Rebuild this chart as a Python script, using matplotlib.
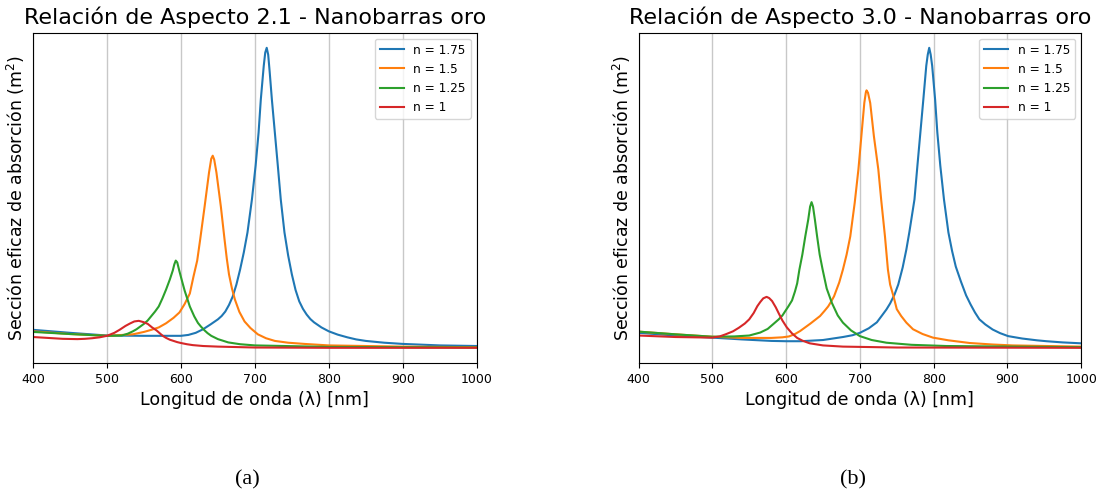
import matplotlib
matplotlib.use('Agg')
import matplotlib.pyplot as plt

# longitudes de onda (nm) y sección eficaz (u.a.) - relación de aspecto 2.1
lam_a_175 = [400, 450, 500, 550, 600, 610, 620, 630, 640, 650, 655, 660, 665, 670, 675, 680, 685, 690, 696, 701,
             705, 708, 712, 714, 716, 718, 720, 723, 727, 731, 735, 740, 745, 750, 755, 760, 765, 770, 775, 780,
             790, 800, 812, 825, 837, 850, 875, 900, 950, 1000]
sec_a_175 = [0.62, 0.52, 0.43, 0.42, 0.42, 0.45, 0.52, 0.64, 0.80, 0.97, 1.08, 1.23, 1.45, 1.73, 2.13, 2.63, 3.20,
             3.87, 4.97, 6.10, 7.20, 8.30, 9.43, 9.87, 10.03, 9.80, 9.23, 8.30, 7.20, 6.10, 4.97, 3.87, 3.10, 2.47,
             1.95, 1.57, 1.32, 1.13, 0.98, 0.87, 0.70, 0.57, 0.46, 0.37, 0.30, 0.25, 0.19, 0.15, 0.10, 0.08]

lam_a_150 = [400, 450, 500, 535, 550, 560, 570, 580, 590, 598, 605, 612, 617, 622, 626, 632, 638, 641, 643, 645,
             648, 654, 659, 662, 665, 669, 673, 679, 686, 694, 704, 715, 727, 745, 767, 800, 900, 1000]
sec_a_150 = [0.57, 0.48, 0.42, 0.47, 0.55, 0.62, 0.70, 0.84, 1.02, 1.20, 1.48, 1.83, 2.40, 2.93, 3.63, 4.73, 5.87,
             6.33, 6.43, 6.30, 5.87, 4.73, 3.63, 3.00, 2.47, 2.00, 1.63, 1.22, 0.90, 0.68, 0.47, 0.34, 0.25, 0.19,
             0.15, 0.10, 0.06, 0.04]

lam_a_125 = [400, 450, 500, 520, 528, 535, 540, 545, 550, 555, 565, 570, 575, 580, 585, 589, 591, 593, 595, 598,
             602, 605, 612, 618, 623, 627, 632, 636, 641, 650, 664, 680, 700, 800, 1000]
sec_a_125 = [0.55, 0.48, 0.42, 0.43, 0.49, 0.57, 0.64, 0.73, 0.82, 0.93, 1.23, 1.40, 1.67, 1.97, 2.30, 2.60, 2.80,
             2.93, 2.87, 2.57, 2.20, 1.93, 1.40, 1.07, 0.85, 0.73, 0.60, 0.51, 0.42, 0.31, 0.20, 0.14, 0.10, 0.05,
             0.03]

lam_a_100 = [400, 420, 440, 460, 470, 480, 490, 500, 510, 517, 525, 531, 537, 543, 549, 555, 561, 567, 573, 576,
             580, 585, 590, 595, 600, 608, 616, 630, 650, 700, 800, 1000]
sec_a_100 = [0.38, 0.35, 0.32, 0.31, 0.32, 0.34, 0.37, 0.42, 0.52, 0.62, 0.75, 0.83, 0.90, 0.92, 0.88, 0.82, 0.70,
             0.60, 0.47, 0.41, 0.35, 0.29, 0.25, 0.21, 0.18, 0.14, 0.11, 0.08, 0.06, 0.03, 0.02, 0.02]

# relación de aspecto 3.0
lam_b_175 = [400, 450, 500, 540, 580, 600, 620, 650, 677, 690, 700, 712, 723, 730, 736, 741, 747, 752, 758, 763,
             767, 774, 778, 782, 786, 790, 792, 794, 796, 798, 802, 805, 809, 814, 820, 825, 830, 837, 844, 850,
             856, 862, 870, 880, 890, 901, 920, 940, 953, 975, 1000]
sec_b_175 = [0.52, 0.43, 0.36, 0.30, 0.25, 0.24, 0.24, 0.28, 0.38, 0.44, 0.52, 0.67, 0.87, 1.10, 1.30, 1.50, 1.80,
             2.13, 2.70, 3.30, 3.87, 4.97, 6.10, 7.20, 8.30, 9.43, 9.80, 10.03, 9.80, 9.43, 8.30, 7.20, 6.10, 4.97,
             3.87, 3.25, 2.73, 2.23, 1.77, 1.47, 1.20, 0.97, 0.80, 0.63, 0.51, 0.41, 0.33, 0.27, 0.24, 0.20, 0.17]

lam_b_150 = [400, 450, 500, 540, 580, 595, 604, 612, 619, 633, 646, 652, 657, 661, 665, 672, 677, 682, 687, 693,
             698, 702, 706, 708, 709, 711, 714, 719, 725, 729, 734, 738, 741, 746, 750, 756, 763, 772, 785, 799,
             820, 849, 880, 907, 1000]
sec_b_150 = [0.56, 0.47, 0.39, 0.35, 0.35, 0.37, 0.40, 0.48, 0.58, 0.83, 1.08, 1.25, 1.40, 1.56, 1.74, 2.20, 2.63,
             3.13, 3.74, 4.86, 5.97, 7.08, 8.19, 8.53, 8.61, 8.53, 8.19, 7.08, 5.97, 4.93, 3.74, 2.63, 2.13, 1.70,
             1.31, 1.08, 0.86, 0.64, 0.48, 0.36, 0.27, 0.18, 0.13, 0.10, 0.06]

lam_b_125 = [400, 450, 500, 530, 550, 565, 575, 583, 590, 595, 603, 608, 612, 615, 618, 622, 626, 630, 632.5, 634.5,
             636.5, 639, 642, 645.5, 649.5, 655, 662, 670, 677, 688, 700, 716, 736, 770, 817, 1000]
sec_b_125 = [0.56, 0.47, 0.39, 0.40, 0.43, 0.53, 0.65, 0.82, 0.97, 1.10, 1.40, 1.60, 1.90, 2.17, 2.63, 3.13, 3.74,
             4.30, 4.73, 4.88, 4.73, 4.30, 3.74, 3.13, 2.63, 2.00, 1.52, 1.10, 0.86, 0.60, 0.41, 0.28, 0.19, 0.12,
             0.08, 0.04]

lam_b_100 = [400, 450, 500, 510, 518, 528, 536, 544, 550, 556, 561, 565, 569, 573.5, 577, 581, 586, 590, 595, 601,
             608, 615, 622, 632, 650, 677, 750, 1000]
sec_b_100 = [0.43, 0.38, 0.36, 0.40, 0.47, 0.57, 0.69, 0.83, 0.97, 1.18, 1.41, 1.55, 1.67, 1.72, 1.68, 1.58, 1.37,
             1.17, 0.93, 0.70, 0.50, 0.35, 0.26, 0.17, 0.10, 0.06, 0.03, 0.02]

etiquetas = ['n = 1.75', 'n = 1.5', 'n = 1.25', 'n = 1']
titulos = ['Relación de Aspecto 2.1 - Nanobarras oro', 'Relación de Aspecto 3.0 - Nanobarras oro']
subfig = ['(a)', '(b)']

curvas = [
    [(lam_a_175, sec_a_175), (lam_a_150, sec_a_150), (lam_a_125, sec_a_125), (lam_a_100, sec_a_100)],
    [(lam_b_175, sec_b_175), (lam_b_150, sec_b_150), (lam_b_125, sec_b_125), (lam_b_100, sec_b_100)],
]

fig = plt.figure(figsize=(11.01, 4.97), dpi=100)
posiciones = [[0.030, 0.270, 0.403, 0.664], [0.580, 0.270, 0.402, 0.664]]
centros_x = [0.225, 0.775]

for k in range(2):
    ax = fig.add_axes(posiciones[k])
    for (lam, sec), lab in zip(curvas[k], etiquetas):
        ax.plot(lam, sec, label=lab, linewidth=1.5)
    ax.set_xlim(400, 1000)
    ax.set_yticks([])
    ax.set_title(titulos[k], fontsize=16)
    ax.set_xlabel('Longitud de onda (λ) [nm]', fontsize=12.5)
    ax.set_ylabel('Sección eficaz de absorción (m$^2$)', fontsize=12.5)
    ax.tick_params(axis='x', labelsize=9)
    ax.grid(axis='x', color='#c8c8c8', linewidth=1)
    ax.legend(loc='upper right', fontsize=8.7)
    fig.text(centros_x[k], 0.034, subfig[k], family='Liberation Serif', fontsize=16, ha='center', va='center')

plt.savefig('out.png', dpi=100)
